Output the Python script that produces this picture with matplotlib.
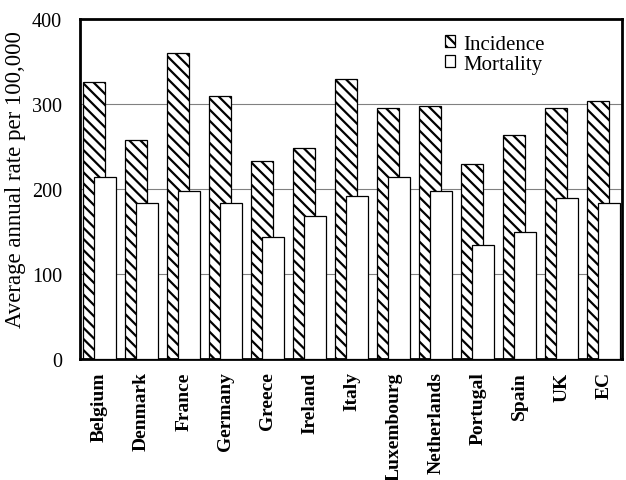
import numpy as np
import matplotlib as mpl
import matplotlib.pyplot as plt
from matplotlib.patches import Patch

mpl.use('AGG')

countries = ['Belgium', 'Denmark', 'France', 'Germany', 'Greece', 'Ireland', 'Italy',
	'Luxembourg', 'Netherlands', 'Portugal', 'Spain', 'UK', 'EC']
incidence = [326, 258, 360, 310, 233, 248, 329, 295, 298, 229, 264, 295, 304]
mortality = [214, 184, 198, 184, 143, 168, 192, 214, 198, 134, 149, 189, 183]

plt.rcParams['font.family'] = ['Liberation Serif', 'DejaVu Serif']
plt.rcParams['hatch.linewidth'] = 1.6

fig, ax = plt.subplots(figsize=(6.26, 4.81), dpi=100)
fig.subplots_adjust(left=0.128, right=0.994, top=0.958, bottom=0.252)

x = np.arange(len(countries))
w = 0.524
off = 0.131

# Grid lines behind bars
for y in (100, 200, 300):
	ax.axhline(y, color='0.5', linewidth=0.8, zorder=0)

ax.bar(x - off, incidence, width=w, color='white', edgecolor='black',
	hatch='\\\\\\', linewidth=0.9, zorder=2, label='Incidence')
ax.bar(x + off, mortality, width=w, color='white', edgecolor='black',
	linewidth=0.9, zorder=3, label='Mortality')

ax.set_xlim(-0.464, 12.44)
ax.set_ylim(0, 400)
ax.set_yticks([0, 100, 200, 300, 400])
ax.set_xticks(x)
ax.set_xticklabels(countries, rotation=90, fontsize=14, fontweight='bold')
ax.tick_params(axis='both', length=0)
ax.tick_params(axis='y', labelsize=14.5, pad=13)
ax.tick_params(axis='x', pad=9)
ax.set_ylabel('Average annual rate per 100,000', fontsize=16.5, labelpad=4, y=0.53)

for s in ax.spines.values():
	s.set_linewidth(2)

handles = [Patch(facecolor='white', edgecolor='black', hatch='\\\\\\', linewidth=0.9),
	Patch(facecolor='white', edgecolor='black', linewidth=0.9)]
ax.legend(handles, ['Incidence', 'Mortality'], loc='upper left',
	bbox_to_anchor=(0.638, 1.01), frameon=False, fontsize=15,
	handlelength=0.5, handleheight=0.5, handletextpad=0.4, labelspacing=0.05)

fig.savefig('out.png', dpi=100)
plt.close()
